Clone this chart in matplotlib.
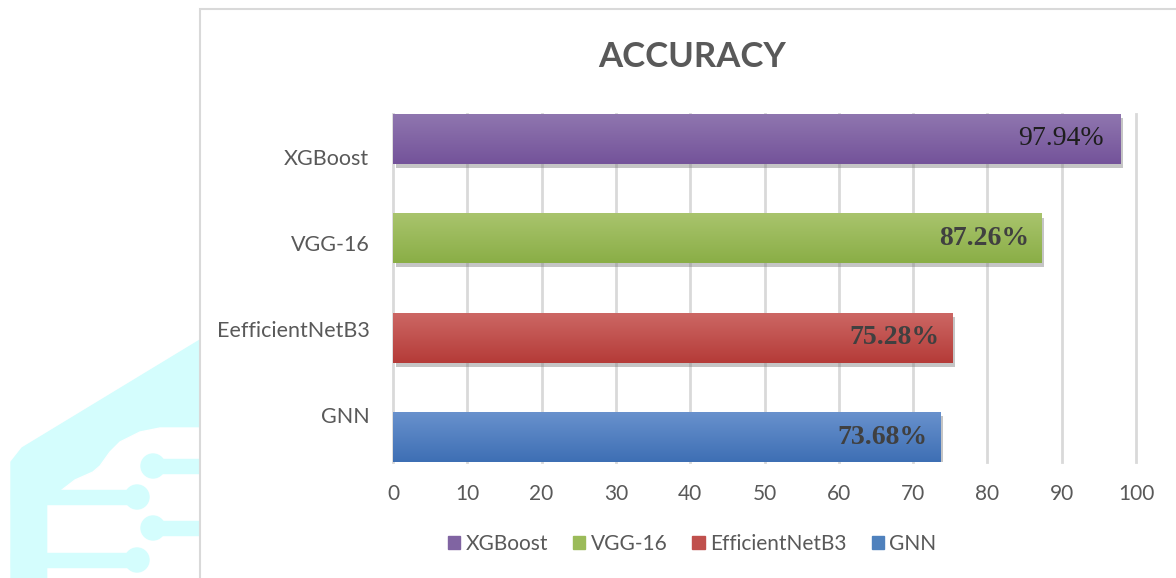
import numpy as np
import matplotlib
matplotlib.use("Agg")
import matplotlib.pyplot as plt
import matplotlib.patheffects as pe
from matplotlib.colors import to_rgb
from matplotlib.patches import Rectangle, Polygon, Circle

# data (bottom to top, as drawn)
models = ["GNN", "EefficientNetB3", "VGG-16", "XGBoost"]
legend_names = ["XGBoost", "VGG-16", "EfficientNetB3", "GNN"]
accuracy = [73.68, 75.28, 87.26, 97.94]
value_labels = ["73.68%", "75.28%", "87.26%", "97.94%"]
xticks = [0, 10, 20, 30, 40, 50, 60, 70, 80, 90, 100]

# styles
top_colors = ["#6891cd", "#cc6764", "#a9c46d", "#8f76af"]
bottom_colors = ["#3e6fb4", "#b53b38", "#8aae46", "#74539a"]
mid_colors = ["#4f81bd", "#c0504d", "#9bbb59", "#8064a2"]
label_bold = [True, True, True, False]
label_colors = ["#404040", "#404040", "#404040", "#1e1e1e"]
# category labels sit a bit closer together than the bars (as in the source)
label_pos = [0.22, 1.09, 1.955, 2.82]

plt.rcParams["font.family"] = ["Lato", "DejaVu Sans"]
GRAY = "#595959"

W, H = 1176, 578
fig = plt.figure(figsize=(W / 100, H / 100), dpi=100)


def fx(px):
    return px / W


def fy(py):
    return 1 - py / H


def poly(pts, color, z):
    fig.patches.append(Polygon([(fx(x), fy(y)) for x, y in pts], closed=True,
                               transform=fig.transFigure, color=color, zorder=z))


# watermark on the page, left of the chart
cyan = "#d4fdfd"
poly([(11, 578), (11, 462), (22, 448), (200, 340), (200, 578)], cyan, 0)
poly([(200, 428), (160, 428), (140, 432), (120, 442), (110, 452), (100, 466),
      (93, 472), (75, 480), (62, 490), (48, 505), (48, 578), (200, 578)], "white", 0.5)
for (x0, x1, y, dot) in [(153, 200, 466, 153), (11, 137, 497, 137),
                         (153, 200, 528, 153), (11, 137, 560, 137)]:
    fig.patches.append(Rectangle((fx(x0), fy(y + 7)), fx(x1 - x0), 14 / H,
                                 transform=fig.transFigure, color=cyan, zorder=1))
    fig.patches.append(Circle((dot, H - y), 12, transform=None, color=cyan, zorder=1))

# chart frame
fig.patches.append(Rectangle((fx(200), fy(590)), fx(1000), (590 - 9) / H,
                             transform=fig.transFigure, facecolor="white",
                             edgecolor="#d9d9d9", lw=1.5, zorder=2))

ax = fig.add_axes([fx(393), fy(462), fx(1136 - 393), (462 - 114) / H])
ax.set_zorder(3)
ax.patch.set_alpha(0)

ypos = np.arange(len(models))
bars = ax.barh(ypos, accuracy, height=0.5, color=mid_colors, zorder=3)

for bar, ctop, cbot in zip(bars, top_colors, bottom_colors):
    bar.set_path_effects([pe.SimplePatchShadow(offset=(2, -3), shadow_rgbFace="#7f7f7f",
                                               alpha=0.45), pe.Normal()])
    x0, y0 = bar.get_x(), bar.get_y()
    w, h = bar.get_width(), bar.get_height()
    t = np.linspace(0, 1, 64)[:, None, None]
    grad = (1 - t) * np.array(to_rgb(cbot)) + t * np.array(to_rgb(ctop))
    im = ax.imshow(grad, extent=(x0, x0 + w, y0, y0 + h), origin="lower",
                   aspect="auto", zorder=4, interpolation="bilinear")
    im.set_clip_path(bar)

for v, y, txt, b, c in zip(accuracy, ypos, value_labels, label_bold, label_colors):
    ax.annotate(txt, xy=(v, y), xytext=(-9 if b else -12, 0), textcoords="offset points",
                ha="right", va="center", fontsize=20, color=c,
                fontfamily="Liberation Serif",
                fontweight="bold" if b else "normal", zorder=6)

ax.set_xlim(0, 100)
ax.set_ylim(-0.25, 3.25)
ax.set_xticks(xticks)
ax.set_yticks(label_pos)
ax.set_yticklabels(models)
ax.tick_params(axis="x", length=0, pad=16, labelsize=15, labelcolor=GRAY)
ax.tick_params(axis="y", length=0, pad=17, labelsize=15.5, labelcolor=GRAY)
for s in ax.spines.values():
    s.set_visible(False)
ax.grid(axis="x", color="#d9d9d9", lw=2, zorder=1)
ax.set_axisbelow(True)
for gl in ax.get_xgridlines():
    gl.set_clip_on(False)

fig.text(fx(692), fy(57), "ACCURACY", ha="center", va="center",
         fontsize=25, fontweight="bold", color=GRAY, zorder=5)

handles = [Rectangle((0, 0), 1, 1, color=c) for c in mid_colors[::-1]]
leg = fig.legend(handles, legend_names, loc="center", bbox_to_anchor=(fx(692), fy(544)),
                 ncol=4, frameon=False, fontsize=15, handlelength=0.6, handleheight=0.6,
                 handletextpad=0.25, columnspacing=1.2, labelcolor=GRAY)
leg.set_zorder(5)

fig.savefig("out.png", dpi=100)
